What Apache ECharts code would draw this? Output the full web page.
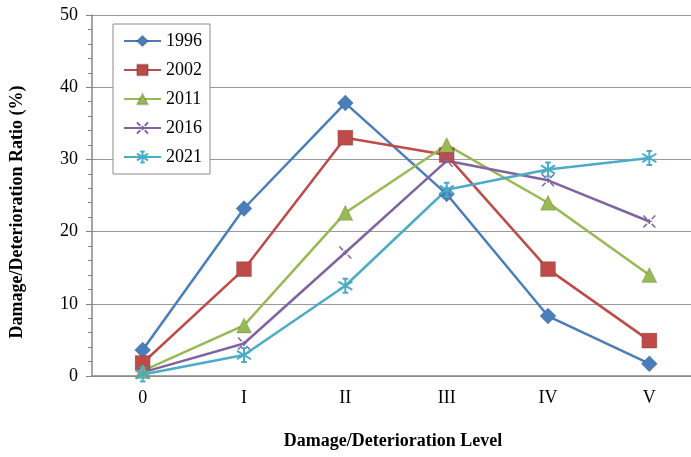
<!DOCTYPE html>
<html>
<head>
<meta charset="utf-8">
<script src="https://cdn.jsdelivr.net/npm/echarts@6/dist/echarts.min.js"></script>
<style>
  html, body { margin: 0; padding: 0; background: #fff; overflow: hidden; }
  #chart { width: 712px; height: 457px; }
</style>
</head>
<body>
<div id="chart"></div>
<script>
// Damage/deterioration level categories
const levels = ['0', 'I', 'II', 'III', 'IV', 'V'];

// Ratio (%) of structures at each level, by survey year
const y1996 = [3.6, 23.2, 37.8, 25.2, 8.3, 1.7];
const y2002 = [1.8, 14.8, 33.0, 30.6, 14.8, 4.9];
const y2011 = [0.7, 7.0, 22.6, 32.0, 24.0, 14.0];
const y2016 = [0.5, 4.5, 17.1, 29.8, 27.1, 21.4];
const y2021 = [0.2, 2.9, 12.5, 25.8, 28.6, 30.2];

const yTicks = [0, 10, 20, 30, 40, 50];

const serif = '"Liberation Serif", "Times New Roman", serif';

const styles = [
  { name: '1996', data: y1996, color: '#4A7EBB', symbol: 'diamond', size: 16, stroke: 0 },
  { name: '2002', data: y2002, color: '#BE4B48', symbol: 'rect', size: 15, stroke: 0 },
  { name: '2011', data: y2011, color: '#98B954', symbol: 'triangle', size: 15, stroke: 0 },
  { name: '2016', data: y2016, color: '#8064A2',
    symbol: 'path://M0,0L3,3M7,7L10,10M10,0L7,3M3,7L0,10M5,3L5,7M3,5L7,5', size: 12, stroke: 1.5 },
  { name: '2021', data: y2021, color: '#4BACC6',
    symbol: 'path://M5,0L5,10M0,2L10,8M10,2L0,8M3,0L7,0M3,10L7,10', size: 14, stroke: 2 }
];

const series = styles.map(s => ({
  name: s.name,
  type: 'line',
  data: s.data,
  symbol: s.symbol,
  symbolSize: s.size,
  showAllSymbol: true,
  lineStyle: { color: s.color, width: 2.5 },
  itemStyle: s.stroke
    ? { color: s.color, borderColor: s.color, borderWidth: s.stroke }
    : { color: s.color, borderColor: 'rgba(0,0,0,0.15)', borderWidth: 1 },
  emphasis: { disabled: true },
  animation: false
}));

const chart = echarts.init(document.getElementById('chart'), null, { renderer: 'canvas' });
chart.setOption({
  backgroundColor: '#ffffff',
  animation: false,
  grid: { left: 92, top: 15, width: 608, height: 361, containLabel: false },
  legend: {
    orient: 'vertical',
    left: 113,
    top: 24,
    padding: [8, 8, 8, 10],
    itemWidth: 37,
    itemHeight: 14,
    itemGap: 11,
    borderColor: '#8c8c8c',
    borderWidth: 1,
    backgroundColor: '#ffffff',
    textStyle: { fontFamily: serif, fontSize: 18, lineHeight: 18, color: '#000' },
    data: styles.map(s => s.name)
  },
  xAxis: {
    type: 'category',
    data: levels,
    boundaryGap: true,
    axisLine: { lineStyle: { color: '#868686', width: 1.5 } },
    axisTick: { show: false },
    axisLabel: { fontFamily: serif, fontSize: 18, color: '#000', margin: 13 }
  },
  yAxis: {
    type: 'value',
    min: yTicks[0],
    max: yTicks[yTicks.length - 1],
    interval: 10,
    axisLine: { show: true, lineStyle: { color: '#868686', width: 1.5 } },
    axisTick: { show: true, length: 6, lineStyle: { color: '#868686' } },
    minorTick: { show: true, splitNumber: 5, length: 4, lineStyle: { color: '#868686' } },
    splitLine: { show: true, lineStyle: { color: '#9a9a9a', width: 1.2 } },
    axisLabel: { fontFamily: serif, fontSize: 18, color: '#000', margin: 14 }
  },
  graphic: [
    {
      type: 'text',
      x: 17, y: 212,
      rotation: Math.PI / 2,
      style: {
        text: 'Damage/Deterioration Ratio (%)',
        font: 'bold 18px ' + serif,
        fill: '#000',
        align: 'center',
        verticalAlign: 'middle'
      }
    },
    {
      type: 'text',
      x: 393, y: 441,
      style: {
        text: 'Damage/Deterioration Level',
        font: 'bold 18px ' + serif,
        fill: '#000',
        align: 'center',
        verticalAlign: 'middle'
      }
    }
  ],
  series: series
});
</script>
</body>
</html>
